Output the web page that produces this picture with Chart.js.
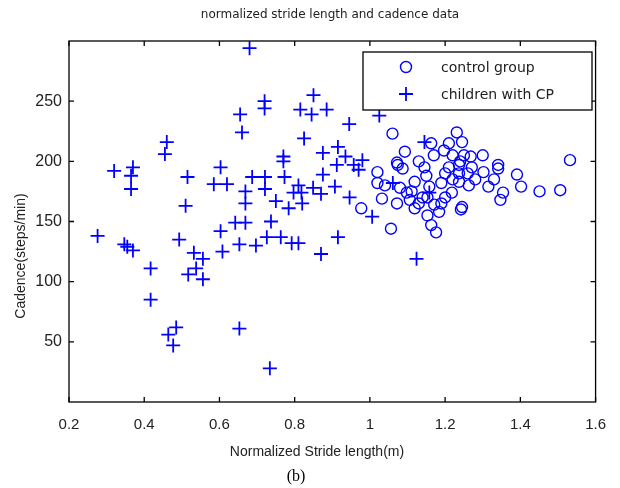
<!DOCTYPE html>
<html>
<head>
<meta charset="utf-8">
<script src="https://cdn.jsdelivr.net/npm/chart.js@4/dist/chart.umd.min.js"></script>
<style>
  html, body { margin: 0; padding: 0; background: #fff; }
  #wrap { width: 620px; height: 488px; position: relative; }
</style>
</head>
<body>
<div id="wrap"><canvas id="myChart" width="620" height="488"></canvas></div>
<script>
// control group (circles)
const strideControl = [1.06, 1.093, 1.072, 1.231, 1.245, 1.21, 1.163, 1.197, 1.268, 1.341, 1.532,
  0.977, 1.056, 1.02, 1.02, 1.074, 1.087, 1.08, 1.098, 1.106, 1.072, 1.032, 1.04,
  1.145, 1.119, 1.111, 1.119, 1.158, 1.153, 1.19, 1.218, 1.171, 1.184, 1.153, 1.163, 1.176,
  1.245, 1.242, 1.21, 1.237, 1.271, 1.302, 1.341, 1.237, 1.237, 1.263, 1.315, 1.354, 1.347,
  1.391, 1.402, 1.451, 1.506,
  1.13, 1.17, 1.2, 1.25, 1.15, 1.26, 1.28, 1.22, 1.2, 1.19, 1.14, 1.13, 1.22, 1.24, 1.3, 1.33];
const cadenceControl = [223, 208, 199, 224, 216, 215, 215, 209, 204, 197, 201,
  161, 144, 191, 182, 197, 194, 178, 174, 168, 165, 169, 180,
  195, 183, 175, 161, 179, 170, 182, 174, 164, 158, 155, 147, 141,
  162, 160, 195, 197, 195, 191, 194, 190, 183, 180, 179, 174, 168,
  189, 179, 175, 176,
  200, 205, 190, 205, 188, 190, 185, 185, 170, 165, 170, 165, 205, 200, 205, 185];

// children with CP (plus signs)
const strideCP = [0.68, 0.72, 0.72, 0.85, 0.815, 0.845, 0.885, 0.655, 0.66, 0.945, 0.825, 1.025,
  0.77, 0.77, 0.875, 0.915, 0.935, 0.98, 0.46, 0.455, 0.32, 0.37, 0.365, 0.365, 0.515, 0.603,
  0.585, 0.62, 0.51, 0.276, 0.347, 0.355, 0.37, 0.493, 0.603, 0.608, 0.642, 0.653, 0.417,
  0.532, 0.556, 0.538, 0.517, 0.556, 0.417, 0.485, 0.464, 0.477, 0.653, 0.734,
  0.687, 0.721, 0.721, 0.669, 0.669, 0.773, 0.875, 0.912, 0.957, 0.97, 0.81, 0.818, 0.797,
  0.82, 0.849, 0.87, 0.907, 0.75, 0.784, 0.946, 1.006, 0.669, 0.737, 0.726, 0.763, 0.792,
  0.81, 0.697, 0.915, 0.87, 1.124, 1.061, 1.158, 1.145];
const cadenceCP = [294, 250, 244, 255, 243, 239, 243, 239, 224, 231, 219, 238,
  204, 200, 207, 212, 204, 201, 216, 206, 192, 195, 188, 177, 187, 195,
  181, 181, 163, 138, 131, 129, 126, 135, 142, 125, 149, 131, 111,
  124, 119, 111, 106, 102, 85, 62, 56, 47, 61, 28,
  187, 187, 177, 175, 165, 187, 189, 197, 197, 193, 180, 174, 174,
  165, 178, 173, 179, 167, 161, 170, 154, 149, 150, 137, 137, 132,
  132, 130, 137, 123, 119, 182, 174, 216];

const xTicks = [0.2, 0.4, 0.6, 0.8, 1, 1.2, 1.4, 1.6];
const yTicks = [50, 100, 150, 200, 250];

const blue = "#0000ff";
const toPoints = (xs, ys) => xs.map((x, i) => ({ x: x, y: ys[i] }));

// frame, inward ticks, texts and legend, drawn the matlab way
const matlabFrame = {
  id: "matlabFrame",
  afterDraw(chart) {
    const ctx = chart.ctx;
    const a = chart.chartArea;
    const sx = chart.scales.x;
    const sy = chart.scales.y;
    ctx.save();
    ctx.strokeStyle = "#000";
    ctx.lineWidth = 1.3;
    ctx.strokeRect(a.left, a.top, a.right - a.left, a.bottom - a.top);
    ctx.beginPath();
    xTicks.forEach((v) => {
      const px = sx.getPixelForValue(v);
      ctx.moveTo(px, a.bottom); ctx.lineTo(px, a.bottom - 5);
      ctx.moveTo(px, a.top); ctx.lineTo(px, a.top + 5);
    });
    yTicks.forEach((v) => {
      const py = sy.getPixelForValue(v);
      ctx.moveTo(a.left, py); ctx.lineTo(a.left + 5, py);
      ctx.moveTo(a.right, py); ctx.lineTo(a.right - 5, py);
    });
    ctx.stroke();

    ctx.fillStyle = "#222";
    ctx.textAlign = "center";
    ctx.textBaseline = "middle";
    ctx.font = "12px 'DejaVu Sans'";
    ctx.fillText("normalized stride length and cadence data", 330, 15);
    ctx.font = "14px 'Liberation Sans'";
    ctx.fillText("Normalized Stride length(m)", 317, 452);
    ctx.save();
    ctx.translate(21, 256);
    ctx.rotate(-Math.PI / 2);
    ctx.fillText("Cadence(steps/min)", 0, 0);
    ctx.restore();
    ctx.fillStyle = "#000";
    ctx.font = "16px 'Liberation Serif'";
    ctx.fillText("(b)", 296, 477);

    // legend box
    ctx.fillStyle = "#fff";
    ctx.fillRect(363, 52, 229, 58);
    ctx.strokeRect(363, 52, 229, 58);
    ctx.strokeStyle = blue;
    ctx.lineWidth = 1.4;
    ctx.beginPath();
    ctx.arc(406, 67, 5.5, 0, Math.PI * 2);
    ctx.stroke();
    ctx.lineWidth = 1.8;
    ctx.beginPath();
    ctx.moveTo(399, 94); ctx.lineTo(413, 94);
    ctx.moveTo(406, 87); ctx.lineTo(406, 101);
    ctx.stroke();
    ctx.fillStyle = "#222";
    ctx.textAlign = "left";
    ctx.font = "14px 'DejaVu Sans'";
    ctx.fillText("control group", 441, 68);
    ctx.fillText("children with CP", 441, 95);
    ctx.restore();
  },
};

const ctx = document.getElementById("myChart");
const theChart = new Chart(ctx, {
  type: "scatter",
  data: {
    datasets: [
      {
        label: "control group",
        data: toPoints(strideControl, cadenceControl),
        pointStyle: "circle",
        radius: 5.5,
        borderColor: blue,
        backgroundColor: "rgba(0,0,0,0)",
        borderWidth: 1.4,
      },
      {
        label: "children with CP",
        data: toPoints(strideCP, cadenceCP),
        pointStyle: "cross",
        radius: 7,
        borderColor: blue,
        backgroundColor: blue,
        borderWidth: 1.8,
      },
    ],
  },
  options: {
    responsive: false,
    animation: false,
    layout: { padding: { left: 0, right: 16, top: 41, bottom: 0 } },
    plugins: {
      legend: { display: false },
      tooltip: { enabled: false },
    },
    scales: {
      x: {
        type: "linear",
        min: 0.2,
        max: 1.6,
        afterFit: (scale) => { scale.height = 86; },
        afterBuildTicks: (scale) => { scale.ticks = xTicks.map((v) => ({ value: v })); },
        grid: { display: false, drawTicks: false },
        border: { display: false },
        ticks: {
          padding: 14,
          color: "#222",
          font: { family: "Liberation Sans", size: 15 },
          callback: (v) => String(Math.round(v * 10) / 10),
        },
      },
      y: {
        type: "linear",
        min: 0,
        max: 300,
        afterFit: (scale) => { scale.width = 69; },
        afterBuildTicks: (scale) => { scale.ticks = yTicks.map((v) => ({ value: v })); },
        grid: { display: false, drawTicks: false },
        border: { display: false },
        ticks: {
          padding: 7,
          color: "#222",
          font: { family: "Liberation Sans", size: 16 },
        },
      },
    },
  },
  plugins: [matlabFrame],
});
</script>
</body>
</html>
